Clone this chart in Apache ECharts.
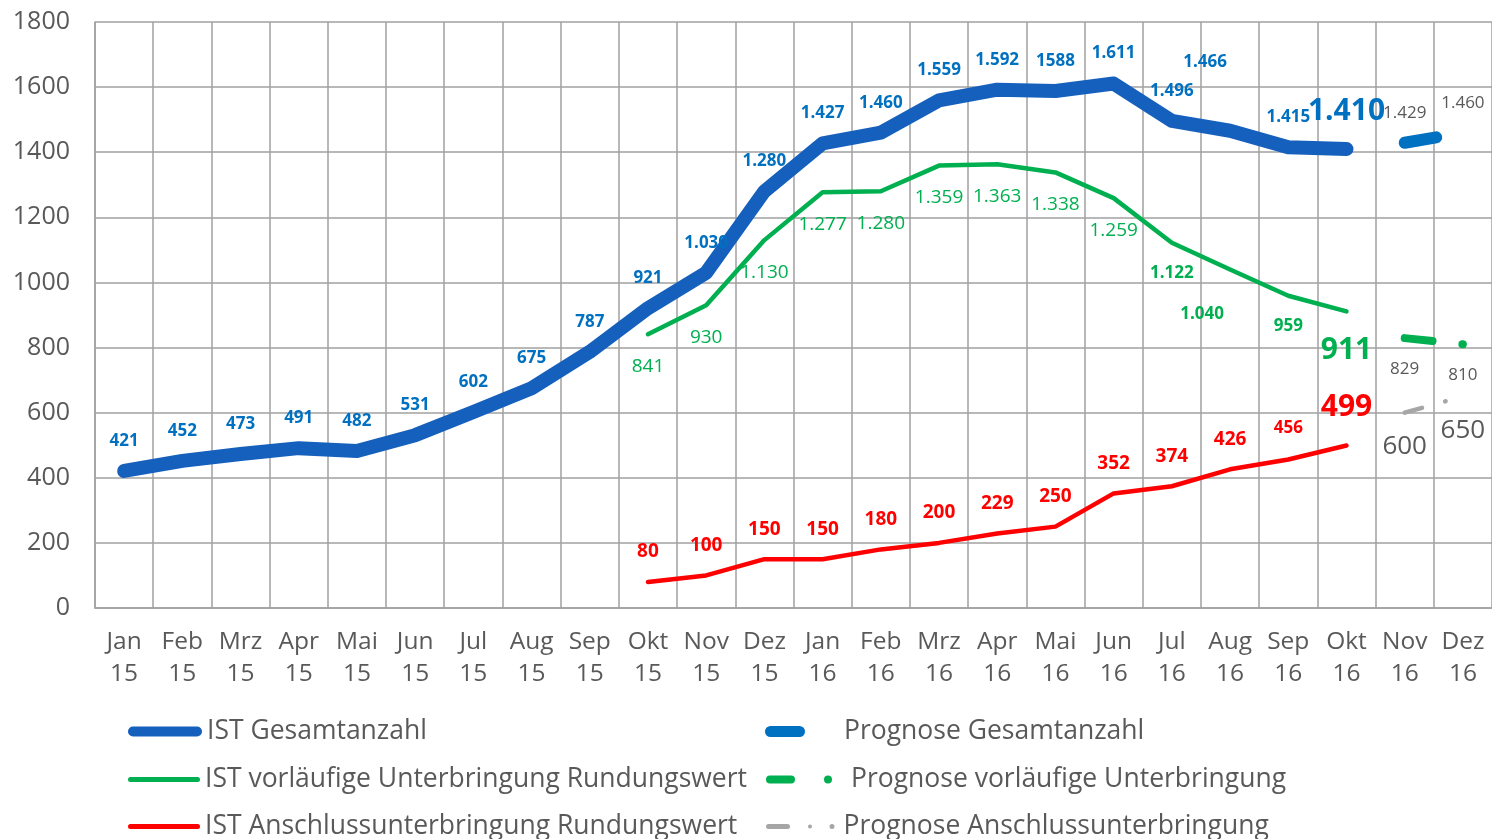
<!DOCTYPE html>
<html><head><meta charset="utf-8">
<script src="https://cdn.jsdelivr.net/npm/echarts@6/dist/echarts.min.js"></script>
<style>html,body{margin:0;padding:0;background:#fff}#c{width:1492px;height:839px}</style>
</head><body><div id="c"></div>
<script>
const categories = ['Jan\n15','Feb\n15','Mrz\n15','Apr\n15','Mai\n15','Jun\n15','Jul\n15','Aug\n15','Sep\n15','Okt\n15','Nov\n15','Dez\n15',
                    'Jan\n16','Feb\n16','Mrz\n16','Apr\n16','Mai\n16','Jun\n16','Jul\n16','Aug\n16','Sep\n16','Okt\n16','Nov\n16','Dez\n16'];
const yTicks = [0,200,400,600,800,1000,1200,1400,1600,1800];
const istGesamt = [421,452,473,491,482,531,602,675,787,921,1030,1280,1427,1460,1559,1592,1588,1611,1496,1466,1415,1410,null,null];
const prognoseGesamt = [null,null,null,null,null,null,null,null,null,null,null,null,null,null,null,null,null,null,null,null,null,null,1429,1460];
const istVorl = [null,null,null,null,null,null,null,null,null,841,930,1130,1277,1280,1359,1363,1338,1259,1122,1040,959,911,null,null];
const prognoseVorl = [null,null,null,null,null,null,null,null,null,null,null,null,null,null,null,null,null,null,null,null,null,null,829,810];
const istAnschl = [null,null,null,null,null,null,null,null,null,80,100,150,150,180,200,229,250,352,374,426,456,499,null,null];
const prognoseAnschl = [null,null,null,null,null,null,null,null,null,null,null,null,null,null,null,null,null,null,null,null,null,null,600,650];

const FONT = '"Open Sans", "Noto Sans", sans-serif';
function fmt(v, plain){ if(v==null) return ''; if(plain || v<1000) return String(v); const s=String(v); return s.slice(0,s.length-3)+'.'+s.slice(-3); }

const BL='#0070C0', GR='#00B050', RD='#FF0000', GY='#595959';
function build(values, layoutFn, plainIdx){
  return values.map((v,i)=>{
    if(v==null) return null;
    const L = layoutFn(i);
    return {value:v, label:{show:true, position:'inside', offset:[L[0],L[1]], fontSize:L[2], fontWeight:L[3], color:L[4], fontFamily:FONT,
      formatter: fmt(v, plainIdx && plainIdx.includes(i))}};
  });
}
const blueLayout = i => {
  if(i===19) return [-25,-69,17,'bold',BL];
  if(i===21) return [0,-38,30,'bold',BL];
  return [0,-30,17,'bold',BL];
};
const greenLayout = i => {
  if(i===18) return [0,30,17,'bold',GR];
  if(i===19) return [-28,45,17,'bold',GR];
  if(i===20) return [0,30,17,'bold',GR];
  if(i===21) return [0,39,30,'bold',GR];
  return [0,32,19,'normal',GR];
};
const redLayout = i => {
  if(i===20) return [0,-31,17,'bold',RD];
  if(i===21) return [0,-38,30,'bold',RD];
  return [0,-30,19,'bold',RD];
};
const pgLayout = i => [0,-30,17,'normal',GY];
const pvLayout = i => [0,31,17,'normal',GY];
const paLayout = i => [0,34,26,'normal',GY];

const chart = echarts.init(document.getElementById('c'));
const legendText = {fontSize:26.5, color:'#595959', fontFamily:FONT};
function lg(name, left, top, icon, w, h, pad){
  return {data:[name], left, top, icon, itemWidth:w, itemHeight:h, selectedMode:false, padding:0,
    textStyle:Object.assign({}, legendText, pad?{padding:[0,0,0,pad]}:{})};
}
const rr = (w,h)=>{const r=h/2; return `path://M${r},0 H${w-r} A${r},${r} 0 0 1 ${w-r},${h} H${r} A${r},${r} 0 0 1 ${r},0 Z`;};
const iconPV = 'path://M4,0 H25 A4,4 0 0 1 25,8 H4 A4,4 0 0 1 4,0 Z M62,0 A4,4 0 1 1 62,8 A4,4 0 1 1 62,0 Z';
const iconPA = 'path://M2.5,0 H21.5 A2.5,2.5 0 0 1 21.5,5 H2.5 A2.5,2.5 0 0 1 2.5,0 Z M44,0.5 A2,2 0 1 1 44,4.5 A2,2 0 1 1 44,0.5 Z M66,0 A2.5,2.5 0 1 1 66,5 A2.5,2.5 0 1 1 66,0 Z';

chart.setOption({
  animation:false,
  textStyle:{fontFamily:FONT},
  grid:{left:95, top:22, width:1399, height:586, containLabel:false},
  legend:[
    lg('IST Gesamtanzahl',128,718,rr(74,10),74,10),
    lg('IST vorläufige Unterbringung Rundungswert',128,766,rr(72,5),72,5),
    lg('IST Anschlussunterbringung Rundungswert',128,813,rr(72,5),72,5),
    lg('Prognose Gesamtanzahl',765,718,rr(40,11),40,11,34),
    lg('Prognose vorläufige Unterbringung',766,766,iconPV,66,8,14),
    lg('Prognose Anschlussunterbringung',766,813,iconPA,68.5,5,4)
  ],
  xAxis:{type:'category', data:categories, boundaryGap:true,
    axisLine:{show:true, lineStyle:{color:'#a0a0a0', width:1.5}},
    axisTick:{show:false},
    splitLine:{show:true, lineStyle:{color:'#a0a0a0', width:1.5}},
    axisLabel:{interval:0, fontSize:24.5, color:'#595959', lineHeight:32, margin:18, fontFamily:FONT}},
  yAxis:{type:'value', min:0, max:1800, interval:200,
    axisLine:{show:true, lineStyle:{color:'#a0a0a0', width:1.5}},
    axisTick:{show:false},
    splitLine:{show:true, lineStyle:{color:'#a0a0a0', width:1.5}},
    axisLabel:{fontSize:25, color:'#595959', margin:25, fontFamily:FONT,
      formatter:v=>yTicks.includes(v)?String(v):''}},
  series:[
    {name:'IST Gesamtanzahl', type:'line', data:build(istGesamt,blueLayout,[16]), symbol:'circle', symbolSize:1,
      itemStyle:{color:'#1560BD'}, lineStyle:{color:'#1560BD', width:14, cap:'round', join:'round'}, z:3},
    {name:'IST vorläufige Unterbringung Rundungswert', type:'line', data:build(istVorl,greenLayout), symbol:'circle', symbolSize:1,
      itemStyle:{color:'#00B050'}, lineStyle:{color:'#00B050', width:4.5, cap:'round', join:'round'}, z:2},
    {name:'IST Anschlussunterbringung Rundungswert', type:'line', data:build(istAnschl,redLayout), symbol:'circle', symbolSize:1,
      itemStyle:{color:'#FF0000'}, lineStyle:{color:'#FF0000', width:4.5, cap:'round', join:'round'}, z:2},
    {name:'Prognose Gesamtanzahl', type:'line', data:build(prognoseGesamt,pgLayout), symbol:'circle', symbolSize:0.01,
      itemStyle:{color:'#0070C0'}, lineStyle:{color:'#0070C0', width:12, cap:'round', type:[32,300]}, z:3},
    {name:'Prognose vorläufige Unterbringung', type:'line', data:build(prognoseVorl,pvLayout), symbol:'circle', symbolSize:0.01,
      itemStyle:{color:'#00B050'}, lineStyle:{color:'#00B050', width:8, cap:'round', type:[28,30,0.5,300]}, z:2},
    {name:'Prognose Anschlussunterbringung', type:'line', data:build(prognoseAnschl,paLayout), symbol:'circle', symbolSize:0.01,
      itemStyle:{color:'#A6A6A6'}, lineStyle:{color:'#A6A6A6', width:4.5, cap:'round', type:[18,24,0.5,300]}, z:2}
  ]
});
</script></body></html>
